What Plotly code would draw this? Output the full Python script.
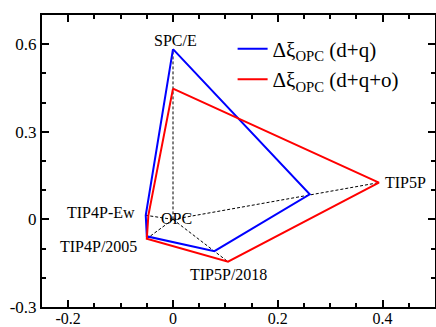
import plotly.graph_objects as go

# ---- data ----
models = ["SPC/E", "TIP5P", "TIP5P/2018", "TIP4P/2005", "TIP4P-Ew"]
dq_x = [0.0, 0.261, 0.079, -0.050, -0.052]
dq_y = [0.583, 0.086, -0.109, -0.058, 0.014]
dqo_x = [0.0, 0.393, 0.105, -0.050, -0.047]
dqo_y = [0.448, 0.126, -0.145, -0.066, 0.014]
ref_name = "OPC"
ref_x, ref_y = 0.0, 0.0

x_tickvals = [-0.2, 0.0, 0.2, 0.4]
x_ticktext = ["-0.2", "0", "0.2", "0.4"]
y_tickvals = [-0.3, 0.0, 0.3, 0.6]
y_ticktext = ["-0.3", "0", "0.3", "0.6"]

FONT = "Liberation Serif, serif"

fig = go.Figure()

# spokes from reference model to the outer vertex of each model
sx, sy = [], []
for i in range(len(models)):
    d1 = (dq_x[i] - ref_x) ** 2 + (dq_y[i] - ref_y) ** 2
    d2 = (dqo_x[i] - ref_x) ** 2 + (dqo_y[i] - ref_y) ** 2
    px, py = (dq_x[i], dq_y[i]) if d1 >= d2 else (dqo_x[i], dqo_y[i])
    sx += [ref_x, px, None]
    sy += [ref_y, py, None]
fig.add_trace(go.Scatter(x=sx, y=sy, mode="lines", showlegend=False,
                         line=dict(color="black", width=1, dash="3px,2px"),
                         hoverinfo="skip"))

fig.add_trace(go.Scatter(x=dq_x + dq_x[:1], y=dq_y + dq_y[:1], mode="lines",
                         name="Δξ<sub>OPC</sub> (d+q)",
                         line=dict(color="#0000ff", width=2)))
fig.add_trace(go.Scatter(x=dqo_x + dqo_x[:1], y=dqo_y + dqo_y[:1], mode="lines",
                         name="Δξ<sub>OPC</sub> (d+q+o)",
                         line=dict(color="#ff0000", width=2)))

# labels
lab_pos = {
    "SPC/E": (0.005, 0.612, "center"),
    "TIP5P": (0.401, 0.127, "left"),
    "TIP5P/2018": (0.105, -0.188, "center"),
    "TIP4P/2005": (-0.064, -0.092, "right"),
    "TIP4P-Ew": (-0.068, 0.024, "right"),
}
for m in models:
    x, y, anc = lab_pos[m]
    fig.add_annotation(x=x, y=y, text=m, showarrow=False, xanchor=anc,
                       yanchor="middle", font=dict(family=FONT, size=16, color="black"))
fig.add_annotation(x=0.006, y=0.003, text=ref_name, showarrow=False,
                   xanchor="center", yanchor="middle",
                   font=dict(family=FONT, size=16, color="black"))

axis_common = dict(showline=True, linecolor="black", linewidth=2, mirror="ticks",
                   ticks="inside", ticklen=7, tickwidth=1.5, tickcolor="black",
                   showgrid=False, zeroline=False, automargin=False)
fig.update_xaxes(range=[-0.25, 0.5], tickvals=x_tickvals, ticktext=x_ticktext,
                 ticklabelstandoff=-4,
                 tickfont=dict(family=FONT, size=16, color="black"),
                 minor=dict(dtick=0.05, tick0=0, ticks="inside", ticklen=4,
                            tickwidth=1.5, tickcolor="black", showgrid=False),
                 **axis_common)
fig.update_yaxes(range=[-0.3, 0.7], tickvals=y_tickvals, ticktext=y_ticktext,
                 tickfont=dict(family=FONT, size=17, color="black"),
                 minor=dict(dtick=0.1, tick0=0, ticks="inside", ticklen=4,
                            tickwidth=1.5, tickcolor="black", showgrid=False),
                 **axis_common)

fig.update_layout(
    width=436, height=327,
    margin=dict(l=42, r=1, t=15, b=20),
    plot_bgcolor="white", paper_bgcolor="white",
    font=dict(family=FONT, color="black"),
    legend=dict(x=0.485, y=0.953, xanchor="left", yanchor="top",
                bgcolor="rgba(0,0,0,0)", font=dict(family=FONT, size=21),
                tracegroupgap=0, itemwidth=30),
)

fig.write_html("out.html", config={"displayModeBar": False},
               post_script="document.body.style.margin='0';document.body.style.padding='0';")
